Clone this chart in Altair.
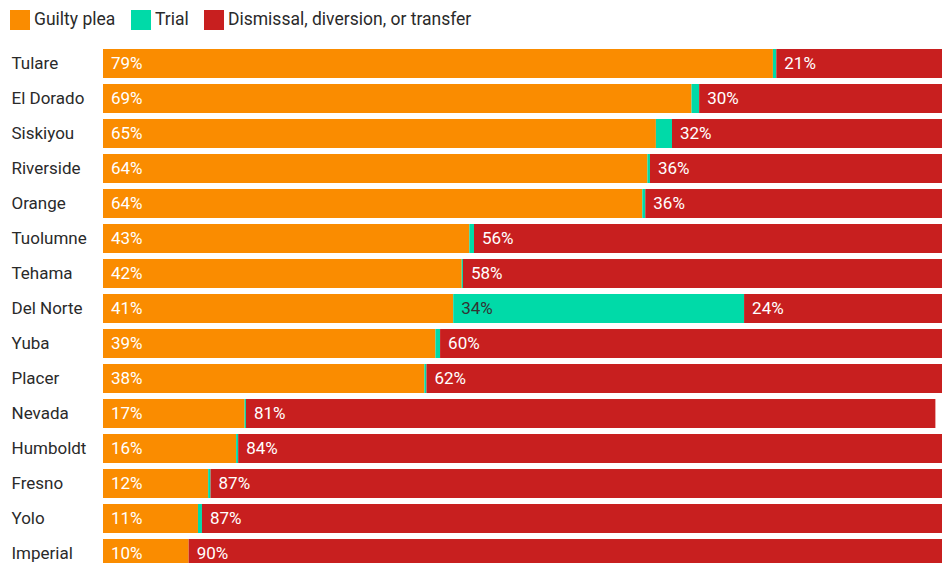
import altair as alt
import pandas as pd

counties = ["Tulare", "El Dorado", "Siskiyou", "Riverside", "Orange", "Tuolumne", "Tehama",
            "Del Norte", "Yuba", "Placer", "Nevada", "Humboldt", "Fresno", "Yolo", "Imperial"]
guilty = [79.0, 69.4, 65.2, 64.2, 63.6, 43.2, 42.3, 41.3, 39.2, 37.9, 16.7, 15.7, 12.4, 11.2, 10.1]
trial = [0.4, 0.9, 1.9, 0.3, 0.35, 0.55, 0.15, 34.3, 0.55, 0.24, 0.16, 0.24, 0.28, 0.47, 0.0]
dismissal = [21, 30, 32, 36, 36, 56, 58, 24, 60, 62, 81.3, 84, 87, 87.4, 90]

categories = ["Guilty plea", "Trial", "Dismissal, diversion, or transfer"]
colors = ["#FA8C00", "#00DAA8", "#C81F1F"]

rows = []
for i, c in enumerate(counties):
    start = 0.0
    for cat, v in zip(categories, [guilty[i], trial[i], dismissal[i]]):
        rows.append({
            "county": c, "category": cat, "value": v,
            "start": start, "end": start + v,
            "label": f"{round(v)}%" if v >= 5 else "",
            "dark": cat == "Trial",
        })
        start += v
df = pd.DataFrame(rows)

FONT = "Roboto"
xscale = alt.Scale(domain=[0, 98.94], nice=False, zero=True)
yscale = alt.Scale(domain=counties, range=[0, 525], paddingInner=0.17, paddingOuter=0.085)

base = alt.Chart(df)

bars = base.mark_bar(clip=True, cornerRadius=0).encode(
    y=alt.Y("county:N", scale=yscale, sort=counties, title=None,
            axis=alt.Axis(labelAlign="left", labelPadding=92, ticks=False, tickSize=0,
                          domain=False, grid=False, labelFontSize=17, labelColor="#2a2a2a",
                          labelFont=FONT)),
    x=alt.X("start:Q", scale=xscale, axis=None),
    x2="end:Q",
    color=alt.Color("category:N", sort=categories,
                    scale=alt.Scale(domain=categories, range=colors),
                    legend=alt.Legend(title=None, orient="none", direction="horizontal",
                                      legendX=-93, legendY=-36, padding=0,
                                      symbolType="square", symbolSize=400,
                                      symbolStrokeWidth=0, symbolOpacity=1,
                                      labelFontSize=17.5, labelColor="#2a2a2a", labelFont=FONT,
                                      labelOffset=4, columnPadding=15,
                                      labelLimit=400)),
)

texts = base.transform_filter("datum.label != ''").mark_text(
    align="left", baseline="middle", dx=8, fontSize=17, font=FONT, clip=True
).encode(
    y=alt.Y("county:N", scale=yscale, sort=counties),
    x=alt.X("start:Q", scale=xscale),
    text="label:N",
    color=alt.condition("datum.dark", alt.value("#333333"), alt.value("#ffffff")),
)

chart = alt.layer(bars, texts).properties(
    width=839, height=517,
    background="white",
    autosize=alt.AutoSizeParams(type="none"),
    padding={"left": 103, "top": 46, "right": 0, "bottom": 0},
).configure_view(stroke=None, strokeWidth=0)

chart.save("out.html", embed_options={"renderer": "svg", "actions": False})
